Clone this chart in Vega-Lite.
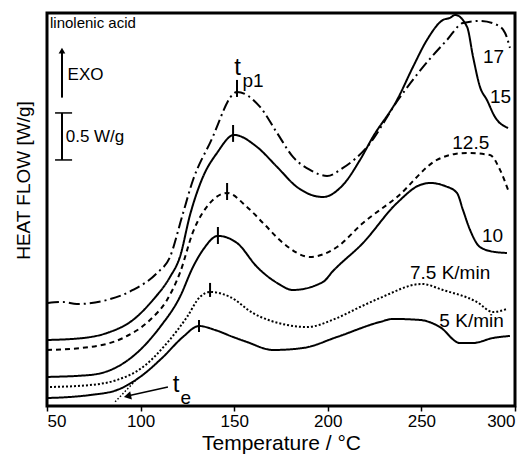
{
  "$schema": "https://vega.github.io/schema/vega-lite/v6.json",
  "width": 468,
  "height": 393,
  "autosize": {"type": "none"},
  "padding": {"left": 47, "top": 13, "right": 14, "bottom": 50},
  "background": "white",
  "config": {
    "view": {"stroke": "black", "strokeWidth": 3},
    "font": "Liberation Sans",
    "text": {"font": "Liberation Sans", "color": "black"}
  },
  "encoding": {
    "x": {
      "field": "T", "type": "quantitative",
      "scale": {"domain": [50, 300], "nice": false, "zero": false},
      "axis": {
        "values": [50, 100, 150, 200, 250, 300], "grid": false, "domain": false,
        "tickSize": 5, "tickColor": "black", "tickWidth": 1.5,
        "labelFontSize": 17, "labelColor": "black", "labelFont": "Liberation Sans", "labelPadding": 2,
        "title": "Temperature  / °C", "titleFontSize": 21, "titleFontWeight": "normal",
        "titleColor": "black", "titleFont": "Liberation Sans", "titlePadding": 3
      }
    },
    "y": {
      "field": "hf", "type": "quantitative",
      "scale": {"domain": [0, 4.18], "nice": false, "zero": false},
      "axis": {
        "labels": false, "ticks": false, "domain": false, "grid": false,
        "title": "HEAT FLOW [W/g]", "titleFontSize": 19, "titleFontWeight": "normal",
        "titleColor": "black", "titleFont": "Liberation Sans",
        "titleX": -24, "titleY": 167, "titleBaseline": "middle", "titleAngle": -90
      }
    }
  },
  "layer": [
    {
      "data": {"values": [
        {"rate": "17", "T": 50.5, "hf": 1.096}, {"rate": "17", "T": 58.5, "hf": 1.106}, {"rate": "17", "T": 66.0, "hf": 1.085},
        {"rate": "17", "T": 82.1, "hf": 1.128}, {"rate": "17", "T": 95.9, "hf": 1.234}, {"rate": "17", "T": 108.8, "hf": 1.415},
        {"rate": "17", "T": 115.7, "hf": 1.585}, {"rate": "17", "T": 122.1, "hf": 2.011}, {"rate": "17", "T": 128.0, "hf": 2.404},
        {"rate": "17", "T": 137.1, "hf": 2.798}, {"rate": "17", "T": 151.5, "hf": 3.340}, {"rate": "17", "T": 163.8, "hf": 3.181},
        {"rate": "17", "T": 172.9, "hf": 2.904}, {"rate": "17", "T": 181.4, "hf": 2.649}, {"rate": "17", "T": 190.5, "hf": 2.511},
        {"rate": "17", "T": 199.6, "hf": 2.447}, {"rate": "17", "T": 208.1, "hf": 2.532}, {"rate": "17", "T": 221.0, "hf": 2.755},
        {"rate": "17", "T": 237.5, "hf": 3.255}, {"rate": "17", "T": 250.9, "hf": 3.606}, {"rate": "17", "T": 263.7, "hf": 3.894},
        {"rate": "17", "T": 272.2, "hf": 4.074}, {"rate": "17", "T": 281.3, "hf": 4.096}, {"rate": "17", "T": 290.4, "hf": 4.053},
        {"rate": "17", "T": 294.7, "hf": 3.968}, {"rate": "17", "T": 297.3, "hf": 3.809},

        {"rate": "15", "T": 50.0, "hf": 0.702}, {"rate": "15", "T": 69.2, "hf": 0.723}, {"rate": "15", "T": 82.1, "hf": 0.777},
        {"rate": "15", "T": 95.9, "hf": 0.915}, {"rate": "15", "T": 106.6, "hf": 1.128}, {"rate": "15", "T": 115.7, "hf": 1.372},
        {"rate": "15", "T": 121.0, "hf": 1.585}, {"rate": "15", "T": 126.4, "hf": 2.032}, {"rate": "15", "T": 133.3, "hf": 2.436},
        {"rate": "15", "T": 140.8, "hf": 2.691}, {"rate": "15", "T": 149.9, "hf": 2.883}, {"rate": "15", "T": 162.2, "hf": 2.755},
        {"rate": "15", "T": 172.9, "hf": 2.543}, {"rate": "15", "T": 183.5, "hf": 2.330}, {"rate": "15", "T": 197.4, "hf": 2.223},
        {"rate": "15", "T": 208.1, "hf": 2.351}, {"rate": "15", "T": 217.2, "hf": 2.617}, {"rate": "15", "T": 224.1, "hf": 2.862},
        {"rate": "15", "T": 237.0, "hf": 3.255}, {"rate": "15", "T": 245.5, "hf": 3.606}, {"rate": "15", "T": 253.0, "hf": 3.894},
        {"rate": "15", "T": 261.5, "hf": 4.106}, {"rate": "15", "T": 265.3, "hf": 4.128}, {"rate": "15", "T": 268.0, "hf": 4.160},
        {"rate": "15", "T": 274.4, "hf": 4.032}, {"rate": "15", "T": 277.6, "hf": 3.713}, {"rate": "15", "T": 281.3, "hf": 3.394},
        {"rate": "15", "T": 285.0, "hf": 3.255}, {"rate": "15", "T": 289.3, "hf": 3.074}, {"rate": "15", "T": 296.3, "hf": 2.957},

        {"rate": "12.5", "T": 50.0, "hf": 0.596}, {"rate": "12.5", "T": 73.0, "hf": 0.628}, {"rate": "12.5", "T": 90.6, "hf": 0.723},
        {"rate": "12.5", "T": 105.0, "hf": 0.915}, {"rate": "12.5", "T": 114.1, "hf": 1.128}, {"rate": "12.5", "T": 121.0, "hf": 1.415},
        {"rate": "12.5", "T": 128.0, "hf": 1.851}, {"rate": "12.5", "T": 137.1, "hf": 2.160}, {"rate": "12.5", "T": 146.2, "hf": 2.266},
        {"rate": "12.5", "T": 156.8, "hf": 2.117}, {"rate": "12.5", "T": 165.4, "hf": 1.947}, {"rate": "12.5", "T": 176.1, "hf": 1.734},
        {"rate": "12.5", "T": 190.5, "hf": 1.585}, {"rate": "12.5", "T": 204.9, "hf": 1.691}, {"rate": "12.5", "T": 218.8, "hf": 1.947},
        {"rate": "12.5", "T": 237.0, "hf": 2.223}, {"rate": "12.5", "T": 258.3, "hf": 2.617}, {"rate": "12.5", "T": 268.0, "hf": 2.681},
        {"rate": "12.5", "T": 274.4, "hf": 2.691}, {"rate": "12.5", "T": 286.6, "hf": 2.670}, {"rate": "12.5", "T": 292.0, "hf": 2.511},
        {"rate": "12.5", "T": 296.3, "hf": 2.298},

        {"rate": "10", "T": 50.0, "hf": 0.309}, {"rate": "10", "T": 73.0, "hf": 0.330}, {"rate": "10", "T": 87.4, "hf": 0.415},
        {"rate": "10", "T": 99.7, "hf": 0.596}, {"rate": "10", "T": 110.4, "hf": 0.840}, {"rate": "10", "T": 121.0, "hf": 1.160},
        {"rate": "10", "T": 128.0, "hf": 1.479}, {"rate": "10", "T": 133.3, "hf": 1.660}, {"rate": "10", "T": 141.3, "hf": 1.809},
        {"rate": "10", "T": 151.5, "hf": 1.734}, {"rate": "10", "T": 162.2, "hf": 1.479}, {"rate": "10", "T": 172.9, "hf": 1.309},
        {"rate": "10", "T": 181.4, "hf": 1.234}, {"rate": "10", "T": 197.4, "hf": 1.319}, {"rate": "10", "T": 202.8, "hf": 1.436},
        {"rate": "10", "T": 218.8, "hf": 1.734}, {"rate": "10", "T": 237.0, "hf": 2.160}, {"rate": "10", "T": 249.3, "hf": 2.351},
        {"rate": "10", "T": 254.6, "hf": 2.372}, {"rate": "10", "T": 262.6, "hf": 2.340}, {"rate": "10", "T": 269.0, "hf": 2.266},
        {"rate": "10", "T": 272.2, "hf": 2.085}, {"rate": "10", "T": 276.0, "hf": 1.872}, {"rate": "10", "T": 281.3, "hf": 1.691},
        {"rate": "10", "T": 289.3, "hf": 1.638}, {"rate": "10", "T": 295.7, "hf": 1.628},

        {"rate": "7.5", "T": 51.6, "hf": 0.202}, {"rate": "7.5", "T": 73.0, "hf": 0.223}, {"rate": "7.5", "T": 87.4, "hf": 0.277},
        {"rate": "7.5", "T": 101.3, "hf": 0.415}, {"rate": "7.5", "T": 114.1, "hf": 0.670}, {"rate": "7.5", "T": 124.8, "hf": 0.947},
        {"rate": "7.5", "T": 131.7, "hf": 1.160}, {"rate": "7.5", "T": 137.1, "hf": 1.213}, {"rate": "7.5", "T": 147.8, "hf": 1.160},
        {"rate": "7.5", "T": 160.0, "hf": 0.989}, {"rate": "7.5", "T": 178.2, "hf": 0.862}, {"rate": "7.5", "T": 188.9, "hf": 0.840},
        {"rate": "7.5", "T": 204.9, "hf": 0.936}, {"rate": "7.5", "T": 217.2, "hf": 1.053}, {"rate": "7.5", "T": 227.9, "hf": 1.149},
        {"rate": "7.5", "T": 250.3, "hf": 1.298}, {"rate": "7.5", "T": 261.5, "hf": 1.234}, {"rate": "7.5", "T": 279.7, "hf": 1.106},
        {"rate": "7.5", "T": 288.2, "hf": 1.000}, {"rate": "7.5", "T": 295.7, "hf": 1.032},

        {"rate": "5", "T": 50.0, "hf": 0.085}, {"rate": "5", "T": 62.3, "hf": 0.096}, {"rate": "5", "T": 73.0, "hf": 0.117},
        {"rate": "5", "T": 87.4, "hf": 0.170}, {"rate": "5", "T": 99.7, "hf": 0.309}, {"rate": "5", "T": 112.0, "hf": 0.521},
        {"rate": "5", "T": 122.6, "hf": 0.734}, {"rate": "5", "T": 131.2, "hf": 0.851}, {"rate": "5", "T": 139.7, "hf": 0.809},
        {"rate": "5", "T": 149.4, "hf": 0.734}, {"rate": "5", "T": 156.8, "hf": 0.681}, {"rate": "5", "T": 170.7, "hf": 0.596},
        {"rate": "5", "T": 186.8, "hf": 0.617}, {"rate": "5", "T": 204.9, "hf": 0.734}, {"rate": "5", "T": 227.9, "hf": 0.894},
        {"rate": "5", "T": 234.8, "hf": 0.926}, {"rate": "5", "T": 249.3, "hf": 0.915}, {"rate": "5", "T": 259.9, "hf": 0.840},
        {"rate": "5", "T": 270.6, "hf": 0.670}, {"rate": "5", "T": 277.6, "hf": 0.670}, {"rate": "5", "T": 288.2, "hf": 0.723},
        {"rate": "5", "T": 297.3, "hf": 0.745}
      ]},
      "mark": {"type": "line", "color": "black", "strokeWidth": 2, "interpolate": "monotone"},
      "encoding": {
        "strokeDash": {
          "field": "rate", "type": "nominal",
          "scale": {"domain": ["17", "15", "12.5", "10", "7.5", "5"],
                    "range": [[11, 4, 2, 4], [1, 0], [5, 4], [1, 0], [2, 2], [1, 0]]},
          "legend": null
        }
      }
    },
    {
      "data": {"values": [
        {"T": 151.5, "hf": 3.468, "hf2": 3.287},
        {"T": 149.4, "hf": 2.989, "hf2": 2.809},
        {"T": 146.2, "hf": 2.372, "hf2": 2.191},
        {"T": 141.3, "hf": 1.904, "hf2": 1.723},
        {"T": 137.1, "hf": 1.309, "hf2": 1.160},
        {"T": 131.2, "hf": 0.915, "hf2": 0.787},
        {"T": 58.0, "hf": 3.117, "hf2": 2.617},
        {"T": 58.0, "hf": 3.28, "hf2": 3.76}
      ]},
      "mark": {"type": "rule", "color": "black", "strokeWidth": 2},
      "encoding": {"y2": {"field": "hf2"}}
    },
    {
      "data": {"values": [
        {"T": 54.3, "T2": 63.4, "hf": 3.117},
        {"T": 54.3, "T2": 63.4, "hf": 2.617}
      ]},
      "mark": {"type": "rule", "color": "black", "strokeWidth": 1.5},
      "encoding": {"x2": {"field": "T2"}}
    },
    {
      "data": {"values": [
        {"T": 114.6, "hf": 0.202, "T2": 93.5, "hf2": 0.108}
      ]},
      "mark": {"type": "rule", "color": "black", "strokeWidth": 1.5},
      "encoding": {"x2": {"field": "T2"}, "y2": {"field": "hf2"}}
    },
    {
      "data": {"values": [
        {"T": 98.6, "hf": 0.298, "T2": 86.3, "hf2": 0.043}
      ]},
      "mark": {"type": "rule", "color": "black", "strokeWidth": 1.5, "strokeDash": [1.5, 2]},
      "encoding": {"x2": {"field": "T2"}, "y2": {"field": "hf2"}}
    },
    {
      "data": {"values": [{"T": 58.0, "hf": 3.78}]},
      "mark": {"type": "point", "shape": "triangle-up", "filled": true, "color": "black", "size": 45, "opacity": 1}
    },
    {
      "data": {"values": [{"T": 93.0, "hf": 0.105}]},
      "mark": {"type": "point", "shape": "triangle-left", "filled": true, "color": "black", "size": 70, "opacity": 1, "angle": -12}
    },
    {
      "data": {"values": [
        {"T": 282.9, "hf": 3.71, "label": "17"},
        {"T": 286.6, "hf": 3.29, "label": "15"},
        {"T": 266.5, "hf": 2.80, "label": "12.5"},
        {"T": 282.4, "hf": 1.81, "label": "10"},
        {"T": 243.9, "hf": 1.415, "label": "7.5 K/min"},
        {"T": 259.6, "hf": 0.904, "label": "5 K/min"}
      ]},
      "mark": {"type": "text", "align": "left", "baseline": "middle", "fontSize": 19},
      "encoding": {"text": {"field": "label"}}
    },
    {
      "data": {"values": [
        {"T": 51.6, "hf": 4.07, "label": "linolenic acid"}
      ]},
      "mark": {"type": "text", "align": "left", "baseline": "middle", "fontSize": 15},
      "encoding": {"text": {"field": "label"}}
    },
    {
      "data": {"values": [
        {"T": 61.0, "hf": 3.52, "label": "EXO"},
        {"T": 60.0, "hf": 2.86, "label": "0.5 W/g"}
      ]},
      "mark": {"type": "text", "align": "left", "baseline": "middle", "fontSize": 17},
      "encoding": {"text": {"field": "label"}}
    },
    {
      "data": {"values": [
        {"T": 151.8, "hf": 3.60, "label": "t"},
        {"T": 118.9, "hf": 0.22, "label": "t"}
      ]},
      "mark": {"type": "text", "align": "center", "baseline": "middle", "fontSize": 24},
      "encoding": {"text": {"field": "label"}}
    },
    {
      "data": {"values": [
        {"T": 154.4, "hf": 3.46, "label": "p1"},
        {"T": 121.3, "hf": 0.09, "label": "e"}
      ]},
      "mark": {"type": "text", "align": "left", "baseline": "middle", "fontSize": 19},
      "encoding": {"text": {"field": "label"}}
    }
  ]
}
